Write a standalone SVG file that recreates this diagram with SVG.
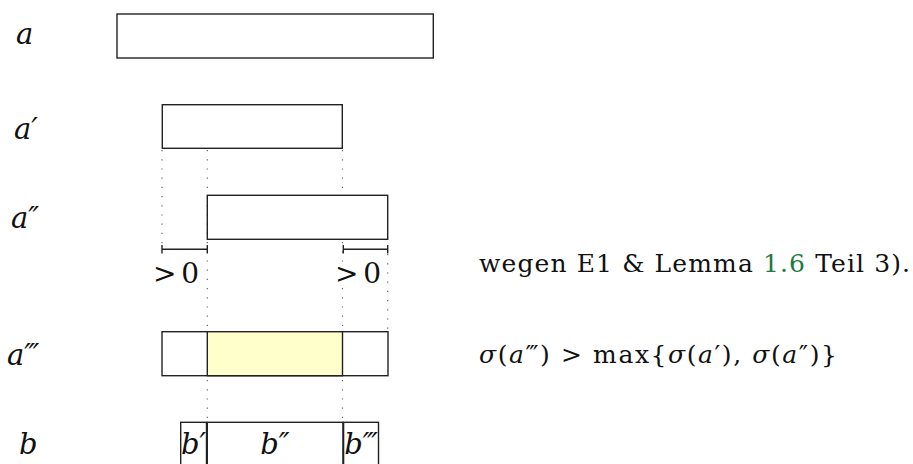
<svg xmlns="http://www.w3.org/2000/svg" width="913" height="464" viewBox="0 0 913 464">
<style>
.box{fill:#fff;stroke:#222;stroke-width:1.4}
.hl{fill:#ffffcc;stroke:#222;stroke-width:1.4}
.dot{stroke:#666;stroke-width:1.2;stroke-dasharray:1.2 8;fill:none}
.br{stroke:#222;stroke-width:1.4;fill:none}
.lbl{font-family:"DejaVu Serif","Liberation Serif",serif;font-style:italic;font-size:29px;fill:#111}
.txt{font-family:"DejaVu Serif","Liberation Serif",serif;font-size:25px;fill:#111}
.gt{font-family:"DejaVu Serif","Liberation Serif",serif;font-size:28px;fill:#111}
.it{font-style:italic}
</style>
<rect width="913" height="464" fill="#fff"/>
<g id="connectors">
<line class="dot" x1="162" y1="150" x2="162" y2="245"/>
<line class="dot" x1="207.3" y1="150" x2="207.3" y2="422"/>
<line class="dot" x1="342.5" y1="150" x2="342.5" y2="422"/>
<line class="dot" x1="387.7" y1="254" x2="387.7" y2="331"/>
<path class="br" d="M162 249.3H207.3M162 245V253.5M207.3 245V253.5"/>
<path class="br" d="M343.3 249.3H387.7M343.3 245V253.5M387.7 245V253.5"/>
</g>
<g id="a">
<text class="lbl" x="16" y="44">a</text>
<rect class="box" x="117" y="14" width="316.3" height="44"/>
</g>
<g id="a1">
<text class="lbl" x="14" y="139">a′</text>
<rect class="box" x="162.3" y="104.7" width="180" height="43.6"/>
</g>
<g id="a2">
<text class="lbl" x="11" y="228">a″</text>
<rect class="box" x="207.3" y="195.3" width="180.4" height="44"/>
<text class="gt" x="153" y="283" textLength="46">&gt; 0</text>
<text class="gt" x="335" y="283" textLength="46">&gt; 0</text>
</g>
<g id="a3">
<text class="lbl" x="7" y="365">a‴</text>
<rect class="box" x="162" y="331.7" width="226" height="44"/>
<rect class="hl" x="207.3" y="331.7" width="135.2" height="44"/>
</g>
<g id="b">
<text class="lbl" x="19" y="454">b</text>
<rect class="box" x="180.7" y="422.3" width="25.8" height="50"/>
<rect class="box" x="207.3" y="422.3" width="135.6" height="50"/>
<rect class="box" x="343.6" y="422.3" width="34.9" height="50"/>
<text class="lbl" x="193.5" y="454" text-anchor="middle">b′</text>
<text class="lbl" x="275" y="454" text-anchor="middle">b″</text>
<text class="lbl" x="361" y="454" text-anchor="middle">b‴</text>
</g>
<g id="note1">
<text class="txt" x="479" y="272" textLength="431">wegen E1 &amp; Lemma <tspan fill="#1f7a3f">1.6</tspan> Teil 3).</text>
</g>
<g id="note2">
<text class="txt" x="479" y="363" textLength="358"><tspan class="it">σ</tspan>(<tspan class="it">a</tspan>‴) &gt; max{<tspan class="it">σ</tspan>(<tspan class="it">a</tspan>′), <tspan class="it">σ</tspan>(<tspan class="it">a</tspan>″)}</text>
</g>
</svg>
